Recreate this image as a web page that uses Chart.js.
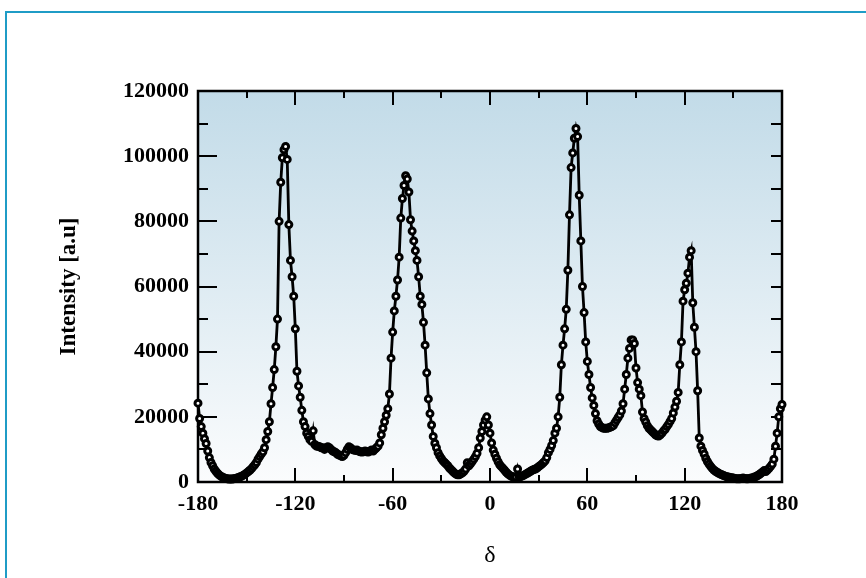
<!DOCTYPE html>
<html>
<head>
<meta charset="utf-8">
<script src="https://cdn.jsdelivr.net/npm/chart.js@4.4.1/dist/chart.umd.min.js"></script>
<style>
  html, body { margin: 0; padding: 0; background: #fff; }
  #wrap { position: relative; width: 866px; height: 578px; overflow: hidden; }
  #frame { position: absolute; left: 5px; top: 11px; width: 900px; height: 620px;
           border-top: 2px solid #1f9cc6; border-left: 2px solid #1f9cc6; }
  canvas { position: absolute; left: 0; top: 0; }
</style>
</head>
<body>
<div id="wrap">
  <div id="frame"></div>
  <canvas id="chart" width="866" height="578"></canvas>
</div>
<script>
// --------------------------------------------------- DATA
// torsion angle delta, one reading per degree from -180 to 180
const angleStart = -180
const angleEnd = 180

// intensity, 10 values per row
const intensity = [
  24200, 19500, 17000, 15000, 13300, 11800, 9500, 7500, 6000, 5000,      // -180
  4000, 3300, 2700, 2200, 1800, 1500, 1300, 1100, 1000, 900,             // -170
  900, 900, 1000, 1100, 1200, 1400, 1600, 1800, 2100, 2400,              // -160
  2800, 3200, 3600, 4100, 4700, 5300, 6000, 7000, 7800, 8600,            // -150
  9300, 10500, 13000, 15500, 18500, 24000, 29000, 34500, 41500, 50000,   // -140
  80000, 92000, 99500, 102000, 103000, 99000, 79000, 68000, 63000, 57000, // -130
  47000, 34000, 29500, 26000, 22000, 18500, 17000, 15000, 14000, 13000,  // -120
  12500, 15700, 11500, 11000, 11000, 10800, 10500, 10500, 10000, 10500,  // -110
  10800, 10500, 10000, 9500, 9300, 9000, 8500, 8300, 8000, 7800,         // -100
  8200, 9000, 10000, 10800, 10500, 10000, 9800, 9700, 9800, 9500,        // -90
  9300, 9200, 9300, 9500, 9300, 9200, 9500, 9800, 9500, 10000,           // -80
  10500, 11000, 12000, 14500, 16500, 18500, 20500, 22500, 27000, 38000,  // -70
  46000, 52500, 57000, 62000, 69000, 81000, 87000, 91000, 94000, 93000,  // -60
  89000, 80500, 77000, 74000, 71000, 68000, 63000, 57000, 54500, 49000,  // -50
  42000, 33500, 25500, 21000, 17500, 14000, 11900, 10500, 9000, 8000,    // -40
  7200, 6500, 6000, 5500, 5000, 4300, 3800, 3300, 2800, 2400,            // -30
  2200, 2200, 2500, 2800, 3300, 4000, 5900, 5000, 5600, 6300,            // -20
  7000, 7800, 8800, 10500, 13500, 15500, 17500, 19000, 20000, 17500,     // -10
  15000, 12000, 9800, 8500, 7300, 6200, 5300, 4700, 4200, 3600,          // 0
  3000, 2500, 2100, 1800, 1600, 1500, 1500, 4000, 1600, 1700,            // 10
  1900, 2100, 2400, 2700, 3000, 3300, 3600, 3800, 4000, 4300,            // 20
  4700, 5100, 5500, 6000, 6500, 7500, 9000, 10000, 11200, 12700,         // 30
  15000, 16500, 20000, 26000, 36000, 42000, 47000, 53000, 65000, 82000,  // 40
  96500, 101000, 105500, 108500, 106000, 88000, 74000, 60000, 52000, 43000, // 50
  37000, 33000, 29000, 25800, 23500, 21000, 18800, 17800, 17000, 16700,  // 60
  16500, 16500, 16500, 16600, 16800, 17000, 17300, 18200, 19000, 19800,  // 70
  20600, 21800, 24000, 28500, 33000, 38000, 41000, 43600, 43600, 42500,  // 80
  35000, 30500, 28500, 26500, 21500, 19500, 18400, 17300, 16500, 16000,  // 90
  15500, 15000, 14500, 14200, 14100, 14500, 15000, 15700, 16200, 17000,  // 100
  17700, 18600, 19500, 21200, 23000, 24800, 27500, 36000, 43000, 55500,  // 110
  59000, 61000, 64100, 69000, 71000, 55000, 47500, 40000, 28000, 13500,  // 120
  11000, 9700, 8600, 7300, 6300, 5500, 4800, 4200, 3700, 3300,           // 130
  3000, 2700, 2400, 2200, 2000, 1800, 1600, 1500, 1400, 1300,            // 140
  1200, 1100, 1000, 1000, 1000, 1100, 1200, 1100, 1000, 1000,            // 150
  1100, 1200, 1300, 1500, 1700, 2000, 2300, 2700, 3100, 3500,            // 160
  3200, 3700, 4200, 4800, 5500, 7000, 11000, 15000, 20000, 22500,        // 170
  23800                                                                  // 180
]

const xTicks = [-180, -120, -60, 0, 60, 120, 180]
const xMinorTicks = [-150, -90, -30, 30, 90, 150]
const yTicks = [0, 20000, 40000, 60000, 80000, 100000, 120000]
const yMinorTicks = [10000, 30000, 50000, 70000, 90000, 110000]

const xTitle = 'δ'
const yTitle = 'Intensity [a.u]'

// --------------------------------------------------- HELPERS
const angles = []
for (let a = angleStart; a <= angleEnd; a++) angles.push(a)
const points = angles.map((a, i) => ({ x: a, y: intensity[i] }))

const serif = '"Liberation Serif", "Times New Roman", serif'

// plot background, axis box and inward ticks on all four sides
const plotFrame = {
  id: 'plotFrame',
  beforeDraw(chart) {
    const { ctx, chartArea: a } = chart
    const grad = ctx.createLinearGradient(0, a.top, 0, a.bottom)
    grad.addColorStop(0, '#c2dbe8')
    grad.addColorStop(1, '#fbfcfd')
    ctx.save()
    ctx.fillStyle = grad
    ctx.fillRect(a.left, a.top, a.right - a.left, a.bottom - a.top)
    ctx.restore()
  },
  beforeDatasetsDraw(chart) {
    const { ctx, chartArea: a, scales } = chart
    ctx.save()
    ctx.strokeStyle = '#000'
    ctx.lineWidth = 2
    ctx.beginPath()
    const xTick = (v, len) => {
      const px = Math.round(scales.x.getPixelForValue(v))
      ctx.moveTo(px, a.bottom); ctx.lineTo(px, a.bottom - len)
      ctx.moveTo(px, a.top); ctx.lineTo(px, a.top + len)
    }
    const yTick = (v, lenL, lenR) => {
      const py = Math.round(scales.y.getPixelForValue(v))
      ctx.moveTo(a.left, py); ctx.lineTo(a.left + lenL, py)
      ctx.moveTo(a.right, py); ctx.lineTo(a.right - lenR, py)
    }
    xTicks.forEach(v => xTick(v, 14))
    xMinorTicks.forEach(v => xTick(v, 7))
    yTicks.forEach(v => yTick(v, 19, 11))
    yMinorTicks.forEach(v => yTick(v, 10, 11))
    ctx.stroke()
    ctx.lineWidth = 2.5
    ctx.strokeRect(a.left, a.top, a.right - a.left, a.bottom - a.top)
    ctx.restore()
  }
}

// --------------------------------------------------- CHART
new Chart(document.getElementById('chart'), {
  type: 'line',
  data: {
    datasets: [{
      data: points,
      borderColor: '#000',
      borderWidth: 2.8,
      pointRadius: 3,
      pointBorderWidth: 3,
      pointBackgroundColor: '#fff',
      pointBorderColor: '#000',
      tension: 0,
      clip: false
    }]
  },
  options: {
    responsive: false,
    devicePixelRatio: 1,
    animation: false,
    layout: { padding: { left: 0, right: 84, top: 91, bottom: 0 } },
    plugins: { legend: { display: false }, tooltip: { enabled: false } },
    scales: {
      x: {
        type: 'linear',
        min: -180,
        max: 180,
        afterFit: s => { s.height = 96 },
        afterBuildTicks: s => { s.ticks = xTicks.map(v => ({ value: v })) },
        grid: { display: false, drawTicks: false },
        border: { display: false },
        ticks: { color: '#000', padding: 9, font: { family: serif, size: 22, weight: 'bold' } },
        title: { display: true, text: xTitle, color: '#000', padding: { bottom: 8 },
                 font: { family: serif, size: 24 } }
      },
      y: {
        min: 0,
        max: 120000,
        afterFit: s => { s.width = 198 },
        afterBuildTicks: s => { s.ticks = yTicks.map(v => ({ value: v })) },
        grid: { display: false, drawTicks: false },
        border: { display: false },
        ticks: { color: '#000', padding: 9, callback: v => String(v),
                 font: { family: serif, size: 22, weight: 'bold' } },
        title: { display: true, text: yTitle, color: '#000', padding: { top: 55 },
                 font: { family: serif, size: 23, weight: 'bold' } }
      }
    }
  },
  plugins: [plotFrame]
})
</script>
</body>
</html>
